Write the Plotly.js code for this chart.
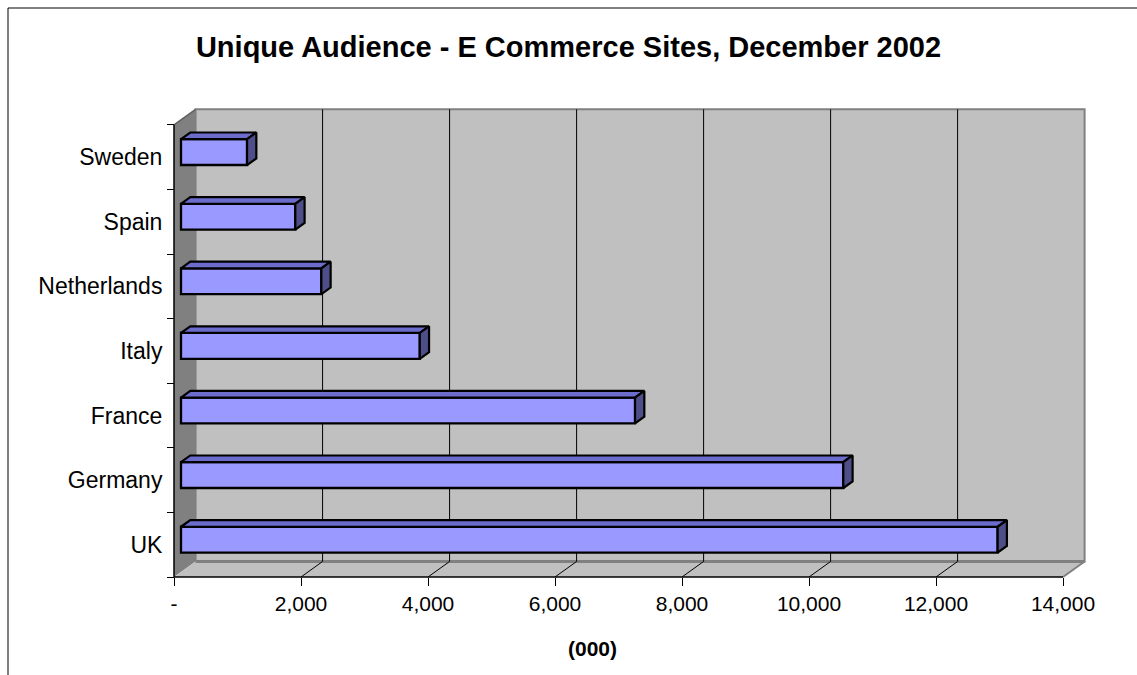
<!DOCTYPE html>
<html>
<head>
<meta charset="utf-8">
<script src="https://cdn.plot.ly/plotly-3.0.1.min.js"></script>
<style>html,body{margin:0;padding:0;background:#fff;}#chart{width:1137px;height:675px;}</style>
</head>
<body>
<div id="chart"></div>
<script>
// ---- data ----
const categories = ['UK', 'Germany', 'France', 'Italy', 'Netherlands', 'Spain', 'Sweden'];
const values = [12860, 10430, 7150, 3760, 2210, 1800, 1040];
const xTickVals = [0, 2000, 4000, 6000, 8000, 10000, 12000, 14000];
const xTickText = ['-', '2,000', '4,000', '6,000', '8,000', '10,000', '12,000', '14,000'];
const titleText = 'Unique Audience - E Commerce Sites, December 2002';
const xTitleText = '(000)';

// ---- 3D look (depth of the box, bar depth) ----
const XMAX = 14000;
const DX = 340;      // box depth along x (data units)
const DY = 0.24;     // box depth along y (category units)
const F1 = 0.324;    // bar front plane (fraction of depth)
const F2 = 0.755;    // bar back plane
const BAR_W = 0.40;
const n = categories.length;
const yTop = n - 0.5;

const FONT = 'Liberation Sans, Arial, sans-serif';

const yIdx = categories.map((c, i) => i + F1 * DY);
const base0 = F1 * DX;
const bdx = (F2 - F1) * DX, bdy = (F2 - F1) * DY;

// top faces & side faces built from data
const topX = [], topY = [], sideX = [], sideY = [];
values.forEach((v, i) => {
  const yc = yIdx[i], yt = yc + BAR_W / 2, yb = yc - BAR_W / 2;
  const x0 = base0, x1 = base0 + v;
  topX.push(x0, x0 + bdx, x1 + bdx, x1, x0, null);
  topY.push(yt, yt + bdy, yt + bdy, yt, yt, null);
  sideX.push(x1, x1, x1 + bdx, x1 + bdx, x1, null);
  sideY.push(yb, yt, yt + bdy, yb + bdy, yb, null);
});

const traces = [
  {
    type: 'bar', orientation: 'h',
    y: yIdx, x: values, base: base0, width: BAR_W,
    marker: {color: '#9999FF', line: {color: '#000000', width: 2.3}},
    hoverinfo: 'skip', showlegend: false
  },
  {
    type: 'scatter', mode: 'lines', x: topX, y: topY, fill: 'toself',
    fillcolor: '#6C6CCC', line: {color: '#000000', width: 2.2},
    hoverinfo: 'skip', showlegend: false
  },
  {
    type: 'scatter', mode: 'lines', x: sideX, y: sideY, fill: 'toself',
    fillcolor: '#4E4E88', line: {color: '#000000', width: 2.2},
    hoverinfo: 'skip', showlegend: false
  }
];

// ---- walls, floor, gridlines ----
const shapes = [];
const L = (x0, y0, x1, y1, color, width) => shapes.push({type: 'line', xref: 'x', yref: 'y', x0, y0, x1, y1, layer: 'below', line: {color, width}});
// left wall
shapes.push({type: 'path', xref: 'x', yref: 'y', layer: 'below',
  path: `M 0,${-0.5} L ${DX},${-0.5 + DY} L ${DX},${yTop + DY} L 0,${yTop} Z`,
  fillcolor: '#808080', line: {width: 0}});
// back wall
shapes.push({type: 'rect', xref: 'x', yref: 'y', layer: 'below',
  x0: DX, x1: XMAX + DX, y0: -0.5 + DY, y1: yTop + DY,
  fillcolor: '#C0C0C0', line: {color: '#808080', width: 2}});
// floor
shapes.push({type: 'path', xref: 'x', yref: 'y', layer: 'below',
  path: `M 0,${-0.5} L ${DX},${-0.5 + DY} L ${XMAX + DX},${-0.5 + DY} L ${XMAX},${-0.5} Z`,
  fillcolor: '#C0C0C0', line: {width: 0}});
L(DX, -0.5 + DY, XMAX + DX, -0.5 + DY, '#808080', 3);
L(XMAX, -0.5, XMAX + DX, -0.5 + DY, '#808080', 2);
L(0, yTop, DX, yTop + DY, '#606060', 1.5);
xTickVals.forEach(v => {
  if (v > 0 && v < XMAX) {
    L(v + DX, -0.5 + DY, v + DX, yTop + DY, '#000000', 1);
    L(v, -0.5, v + DX, -0.5 + DY, '#000000', 1);
  }
});
// front axis lines
L(0, -0.5, XMAX, -0.5, '#000000', 1.5);
L(0, -0.5, 0, yTop, '#000000', 1.5);

// outer chart border (paper coords)
shapes.push({type: 'rect', xref: 'paper', yref: 'paper', layer: 'above',
  x0: (8 - 170) / 920, x1: 1.5, y0: -0.5, y1: (581 - 8) / 476,
  fillcolor: 'rgba(0,0,0,0)', line: {color: '#000000', width: 1}});

const yMinor = [];
for (let i = 0; i <= n; i++) yMinor.push(i - 0.5);

const layout = {
  width: 1137, height: 675,
  paper_bgcolor: '#ffffff', plot_bgcolor: 'rgba(0,0,0,0)',
  margin: {l: 170, r: 47, t: 105, b: 94, pad: 0},
  font: {family: FONT, color: '#000000'},
  title: {text: '<b>' + titleText + '</b>', font: {family: FONT, size: 29, color: '#000'},
    x: 0.5, xref: 'container', xanchor: 'center', y: 1 - 47 / 675, yref: 'container', yanchor: 'middle'},
  xaxis: {
    range: [-63, 14425], fixedrange: true,
    anchor: 'free', position: 4 / 476,
    tickmode: 'array', tickvals: xTickVals, ticktext: xTickText,
    ticks: 'outside', ticklen: 8, tickwidth: 1, tickcolor: '#000',
    tickfont: {family: FONT, size: 21, color: '#000'},
    showgrid: false, zeroline: false, showline: false
  },
  yaxis: {
    range: [-0.562, 6.807], fixedrange: true,
    anchor: 'free', position: 4 / 920,
    tickmode: 'array', tickvals: categories.map((c, i) => i), ticktext: categories,
    ticks: 'outside', ticklen: 7, tickcolor: 'rgba(0,0,0,0)',
    tickfont: {family: FONT, size: 23, color: '#000'},
    minor: {tickmode: 'array', tickvals: yMinor, ticks: 'outside', ticklen: 7, tickwidth: 1, tickcolor: '#000', showgrid: false},
    showgrid: false, zeroline: false, showline: false
  },
  shapes: shapes,
  annotations: [{
    text: '<b>' + xTitleText + '</b>', xref: 'paper', yref: 'paper',
    x: (592 - 170) / 920, y: (581 - 648) / 476, xanchor: 'center', yanchor: 'middle',
    showarrow: false, font: {family: FONT, size: 21, color: '#000'}
  }],
  showlegend: false,
  bargap: 0
};

Plotly.newPlot('chart', traces, layout, {displayModeBar: false, staticPlot: true});
</script>
</body>
</html>
